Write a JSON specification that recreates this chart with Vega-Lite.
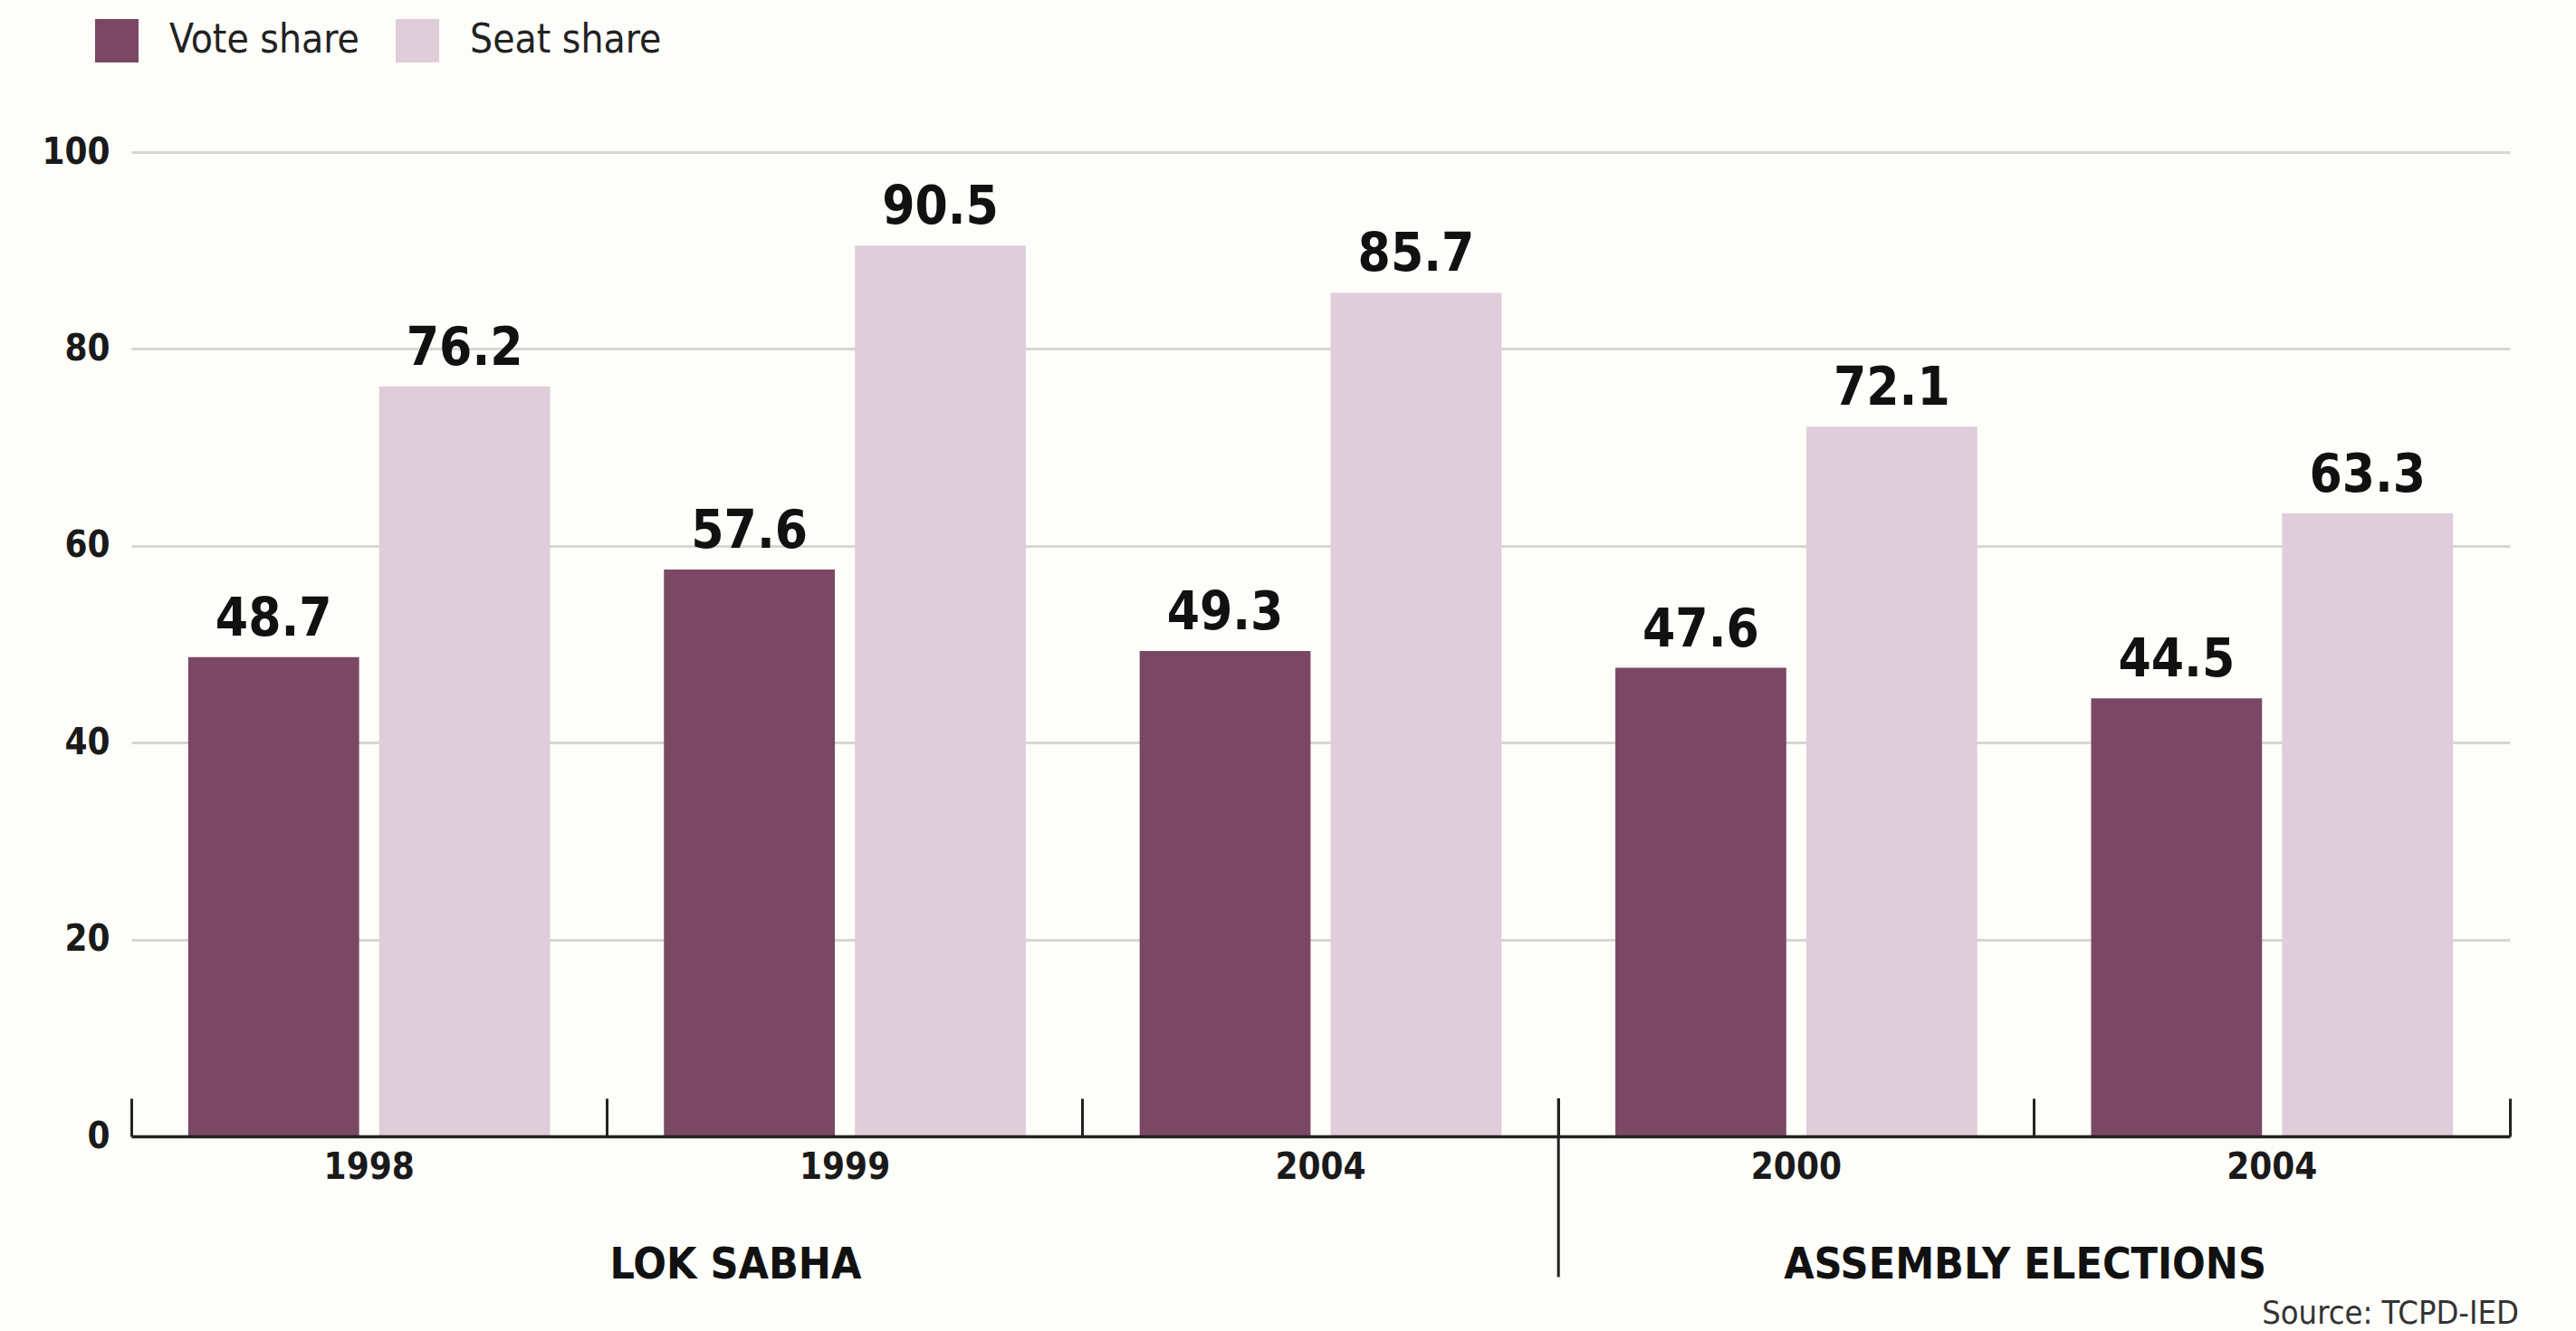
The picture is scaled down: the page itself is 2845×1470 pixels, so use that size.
{
  "$schema": "https://vega.github.io/schema/vega-lite/v6.json",
  "width": 2627,
  "height": 1087,
  "autosize": {"type": "none"},
  "padding": {"left": 145, "top": 168, "right": 73, "bottom": 215},
  "background": "#fdfdf9",
  "config": {
    "view": {"stroke": null},
    "font": "DejaVu Sans Condensed, Liberation Sans, sans-serif",
    "axisY": {
      "grid": true, "gridColor": "#d6d6d2", "gridWidth": 3,
      "domain": false, "ticks": false,
      "labelFontSize": 40, "labelFontWeight": "bold", "labelColor": "#1a1a1a",
      "labelPadding": 24, "title": null
    },
    "legend": {
      "orient": "none", "legendX": -40, "legendY": -147, "direction": "horizontal",
      "title": null, "symbolType": "square", "symbolSize": 2304, "symbolStrokeWidth": 0,
      "labelFontSize": 44, "labelColor": "#222222", "labelOffset": 34, "columnPadding": 40,
      "labelLimit": 0, "padding": 0
    }
  },
  "datasets": {
    "shares": [
      {"id": "LS-1998", "series": "Vote share", "value": 48.7},
      {"id": "LS-1998", "series": "Seat share", "value": 76.2},
      {"id": "LS-1999", "series": "Vote share", "value": 57.6},
      {"id": "LS-1999", "series": "Seat share", "value": 90.5},
      {"id": "LS-2004", "series": "Vote share", "value": 49.3},
      {"id": "LS-2004", "series": "Seat share", "value": 85.7},
      {"id": "AE-2000", "series": "Vote share", "value": 47.6},
      {"id": "AE-2000", "series": "Seat share", "value": 72.1},
      {"id": "AE-2004", "series": "Vote share", "value": 44.5},
      {"id": "AE-2004", "series": "Seat share", "value": 63.3}
    ]
  },
  "layer": [
    {
      "data": {"name": "shares"},
      "mark": {"type": "bar"},
      "encoding": {
        "x": {
          "field": "id", "type": "nominal",
          "scale": {"domain": ["LS-1998", "LS-1999", "LS-2004", "AE-2000", "AE-2004"], "paddingInner": 0, "paddingOuter": 0},
          "axis": {
            "title": null, "zindex": 1,
            "domainColor": "#222222", "domainWidth": 3.5,
            "tickColor": "#222222", "tickWidth": 3, "tickSize": -42,
            "bandPosition": 1, "tickExtra": true,
            "labelAngle": 0, "labelFontSize": 40, "labelFontWeight": "bold", "labelColor": "#1a1a1a",
            "labelPadding": 56, "labelExpr": "split(datum.label, '-')[1]"
          }
        },
        "xOffset": {
          "field": "series", "type": "nominal",
          "scale": {"domain": ["Vote share", "Seat share"], "paddingInner": 0.105, "paddingOuter": 0.298}
        },
        "y": {
          "field": "value", "type": "quantitative",
          "scale": {"domain": [0, 100], "nice": false},
          "axis": {"values": [0, 20, 40, 60, 80, 100]}
        },
        "color": {
          "field": "series", "type": "nominal",
          "scale": {"domain": ["Vote share", "Seat share"], "range": ["#7b4864", "#dfcdd9"]}
        }
      }
    },
    {
      "data": {"name": "shares"},
      "mark": {"type": "text", "baseline": "alphabetic", "dy": -24, "fontSize": 58, "fontWeight": "bold", "color": "#111111"},
      "encoding": {
        "x": {"field": "id", "type": "nominal"},
        "xOffset": {"field": "series", "type": "nominal"},
        "y": {"field": "value", "type": "quantitative"},
        "text": {"field": "value", "type": "quantitative", "format": ".1f"}
      }
    },
    {
      "data": {"values": [{}]},
      "mark": {"type": "rule", "color": "#222222", "strokeWidth": 3},
      "encoding": {
        "x": {"datum": "AE-2000", "type": "nominal", "bandPosition": 0},
        "y": {"datum": 3.86, "type": "quantitative"},
        "y2": {"datum": -14.3}
      }
    },
    {
      "data": {"values": [{}]},
      "mark": {"type": "text", "align": "left", "baseline": "alphabetic", "dx": 3, "fontSize": 48, "fontWeight": "bold", "color": "#111111"},
      "encoding": {
        "x": {"datum": "LS-1999", "type": "nominal", "bandPosition": 0},
        "y": {"datum": -14.4, "type": "quantitative"},
        "text": {"value": "LOK SABHA"}
      }
    },
    {
      "data": {"values": [{}]},
      "mark": {"type": "text", "align": "center", "baseline": "alphabetic", "dx": -10, "fontSize": 48, "fontWeight": "bold", "color": "#111111"},
      "encoding": {
        "x": {"datum": "AE-2004", "type": "nominal", "bandPosition": 0},
        "y": {"datum": -14.4, "type": "quantitative"},
        "text": {"value": "ASSEMBLY ELECTIONS"}
      }
    },
    {
      "data": {"values": [{}]},
      "mark": {"type": "text", "align": "right", "baseline": "alphabetic", "dx": 10, "fontSize": 36, "color": "#333333"},
      "encoding": {
        "x": {"datum": "AE-2004", "type": "nominal", "bandPosition": 1},
        "y": {"datum": -19.0, "type": "quantitative"},
        "text": {"value": "Source: TCPD-IED"}
      }
    }
  ]
}
